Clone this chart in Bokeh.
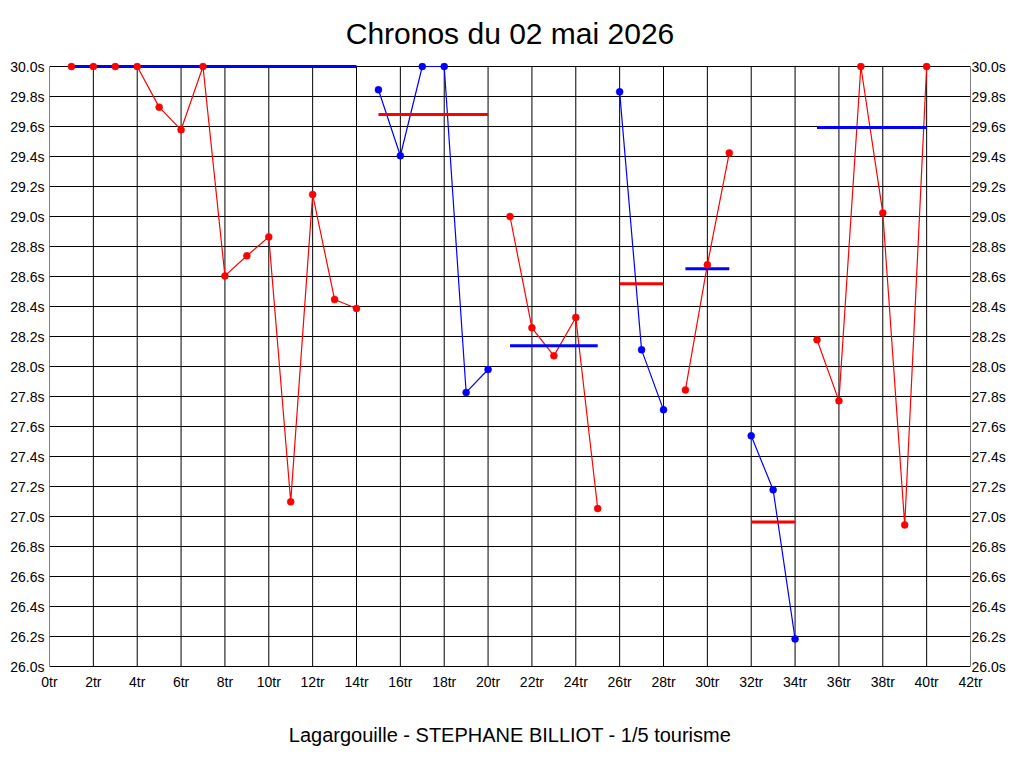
from bokeh.plotting import figure
from bokeh.models import Range1d, LinearAxis, FixedTicker, PrintfTickFormatter
from bokeh.embed import file_html
from bokeh.resources import INLINE

title_text = "Chronos du 02 mai 2026"
footer_text = "Lagargouille - STEPHANE BILLIOT - 1/5 tourisme"

laps = [1, 2, 3, 4, 5, 6, 7, 8, 9, 10, 11, 12, 13, 14,
        15, 16, 17, 18, 19, 20,
        21, 22, 23, 24, 25,
        26, 27, 28,
        29, 30, 31,
        32, 33, 34,
        35, 36, 37, 38, 39, 40]
times = [30.0, 30.0, 30.0, 30.0, 29.729, 29.578, 30.0, 28.604, 28.738, 28.864, 27.098, 29.147, 28.447, 28.387,
         29.845, 29.405, 30.0, 30.0, 27.827, 27.98,
         29.0, 28.258, 28.071, 28.327, 27.053,
         29.831, 28.111, 27.711,
         27.844, 28.678, 29.424,
         27.538, 27.178, 26.184,
         28.178, 27.771, 30.0, 29.024, 26.944, 30.0]

session_first = [1, 15, 21, 26, 29, 32, 35]
session_last = [14, 20, 25, 28, 31, 34, 40]
session_colors = ["red", "blue", "red", "blue", "red", "blue", "red"]
mean_colors = ["blue", "red", "blue", "red", "blue", "red", "blue"]
session_means = [30.0, 29.68, 28.138, 28.551, 28.651, 26.964, 29.593]

x_ticks = [0, 2, 4, 6, 8, 10, 12, 14, 16, 18, 20, 22, 24, 26, 28, 30, 32, 34, 36, 38, 40, 42]
y_ticks = [26.0, 26.2, 26.4, 26.6, 26.8, 27.0, 27.2, 27.4, 27.6, 27.8, 28.0,
           28.2, 28.4, 28.6, 28.8, 29.0, 29.2, 29.4, 29.6, 29.8, 30.0]

x_min, x_max = 0, 42
y_min, y_max = 26.0, 30.0
# small extra room (4px at 150px per second) so marks on the 30.0s line are not clipped
pad = 4 / 150.0

FONT = "Liberation Sans"

p = figure(width=1008, height=752, output_backend="svg", toolbar_location=None,
           x_range=Range1d(x_min, x_max), y_range=Range1d(y_min - pad, y_max + pad),
           min_border_left=49, min_border_right=38, min_border_top=62, min_border_bottom=82,
           background_fill_color="white", border_fill_color="white")

p.title.text = title_text
p.title.align = "center"
p.title.text_font = FONT
p.title.text_font_size = "30px"
p.title.text_font_style = "normal"
p.title.text_color = "black"
p.title.standoff = 26

p.outline_line_color = None

xt = FixedTicker(ticks=x_ticks, minor_ticks=[])
yt = FixedTicker(ticks=y_ticks, minor_ticks=[])

right_axis = LinearAxis()
p.add_layout(right_axis, "right")

xax = p.xaxis[0]
xax.ticker = xt
xax.formatter = PrintfTickFormatter(format="%dtr")
xax.major_label_standoff = 3
xax.axis_label = footer_text
xax.axis_label_text_font = FONT
xax.axis_label_text_font_size = "20px"
xax.axis_label_text_font_style = "normal"
xax.axis_label_text_color = "black"
xax.axis_label_standoff = 31

for ax in p.yaxis:
    ax.ticker = yt
    ax.formatter = PrintfTickFormatter(format="%.1fs")
p.yaxis[0].major_label_standoff = 5
p.yaxis[1].major_label_standoff = 1

for ax in list(p.xaxis) + list(p.yaxis):
    ax.axis_line_color = None
    ax.major_tick_line_color = None
    ax.minor_tick_line_color = None
    ax.major_tick_out = 0
    ax.major_tick_in = 0
    ax.major_label_text_font = FONT
    ax.major_label_text_font_size = "14px"
    ax.major_label_text_color = "black"

# horizontal grid lines (span the full x range)
p.ygrid.ticker = yt
p.ygrid.grid_line_color = "black"
p.ygrid.grid_line_width = 1
p.ygrid.grid_line_alpha = 1.0
# vertical grid lines limited to the 26.0s..30.0s band
p.xgrid.visible = False
p.segment(x0=x_ticks, y0=[y_min] * len(x_ticks), x1=x_ticks, y1=[y_max] * len(x_ticks),
          line_color="black", line_width=1)

# data lines
for first, last, col in zip(session_first, session_last, session_colors):
    i0 = laps.index(first)
    i1 = laps.index(last) + 1
    p.line(laps[i0:i1], times[i0:i1], line_color=col, line_width=1.2)

# mean lines
for first, last, m, col in zip(session_first, session_last, session_means, mean_colors):
    p.line([first, last], [m, m], line_color=col, line_width=3)

# markers
for first, last, col in zip(session_first, session_last, session_colors):
    i0 = laps.index(first)
    i1 = laps.index(last) + 1
    p.scatter(laps[i0:i1], times[i0:i1], size=7, marker="circle",
              fill_color=col, line_color=col, line_width=0.5)

open("out.html", "w").write(file_html(p, INLINE))
